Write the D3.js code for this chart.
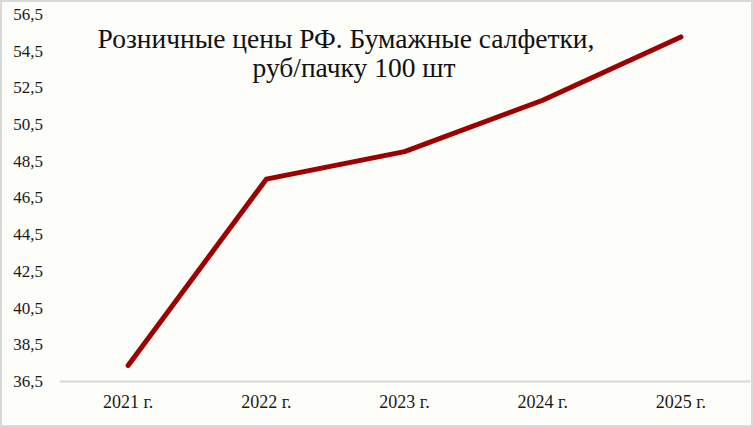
<!DOCTYPE html>
<html><head><meta charset="utf-8">
<script src="https://cdn.jsdelivr.net/npm/d3@7"></script>
<style>html,body{margin:0;padding:0;background:#fff;}svg{display:block;}
.sf{font-family:"Liberation Serif","Times New Roman",Tinos,"DejaVu Serif","Noto Serif",serif;}</style>
</head><body>
<svg id="c" width="753" height="427"></svg>
<script>
const categories = ["2021 г.", "2022 г.", "2023 г.", "2024 г.", "2025 г."];
const values = [37.35, 47.5, 49.0, 51.8, 55.25];
const yTicks = [36.5, 38.5, 40.5, 42.5, 44.5, 46.5, 48.5, 50.5, 52.5, 54.5, 56.5];
const titleLines = ["Розничные цены РФ. Бумажные салфетки,", "руб/пачку 100 шт"];

const svg = d3.select("#c");
const W = 753, H = 427;
svg.append("rect").attr("x",1).attr("y",1).attr("width",W-2).attr("height",H-2)
  .attr("fill","#fdfdf9").attr("stroke","#d9d9d9").attr("stroke-width",2);

const m = {left:59, right:3, top:14, bottom:46};
const x = d3.scaleBand().domain(categories).range([m.left, W-m.right]);
const y = d3.scaleLinear().domain([36.5,56.5]).range([H-m.bottom, m.top]);

const fmt = d => d3.format(".1f")(d).replace(".", ",");
const ya = svg.append("g").attr("transform",`translate(43,0)`)
  .call(d3.axisLeft(y).tickValues(yTicks).tickFormat(fmt).tickSize(0).tickPadding(0));
ya.select(".domain").remove();
ya.selectAll("text").attr("class","sf").attr("font-size",17).attr("fill","#1a1a1a");

const xa = svg.append("g").attr("transform",`translate(0,${y(36.5)})`)
  .call(d3.axisBottom(x).tickSize(0).tickPadding(14));
xa.select(".domain").attr("stroke","#d9d9d9").attr("stroke-width",2);
xa.selectAll("text").attr("class","sf").attr("font-size",18).attr("fill","#1a1a1a");

const line = d3.line().x((d,i)=>x(categories[i])+x.bandwidth()/2).y(d=>y(d));
svg.append("path").datum(values).attr("d",line)
  .attr("fill","none").attr("stroke","#9c0000").attr("stroke-width",5)
  .attr("stroke-linejoin","round").attr("stroke-linecap","round");

const t = svg.append("text").attr("class","sf").attr("font-size",27.5).attr("fill","#111")
  .attr("text-anchor","middle");
t.append("tspan").attr("x",346).attr("y",48).text(titleLines[0]);
t.append("tspan").attr("x",354).attr("y",77).text(titleLines[1]);
</script>
</body></html>
